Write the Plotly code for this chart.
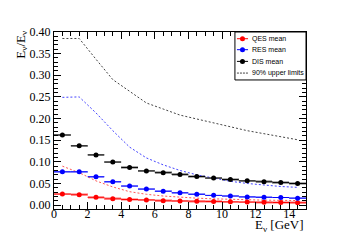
import plotly.graph_objects as go

energy = [0.5, 1.5, 2.5, 3.5, 4.5, 5.5, 6.5, 7.5, 8.5, 9.5, 10.5, 11.5, 12.5, 13.5, 14.5]

qes_mean = [0.0255, 0.024, 0.018, 0.0146, 0.013, 0.012, 0.010, 0.0095, 0.009, 0.0085, 0.0075, 0.007, 0.0065, 0.006, 0.0055]
res_mean = [0.077, 0.077, 0.0655, 0.054, 0.044, 0.037, 0.032, 0.0285, 0.025, 0.0225, 0.021, 0.019, 0.018, 0.0175, 0.016]
dis_mean = [0.162, 0.137, 0.116, 0.0995, 0.087, 0.079, 0.075, 0.071, 0.066, 0.0625, 0.059, 0.056, 0.054, 0.052, 0.050]

qes_err = [0.003] * 15
res_err = [0.002] * 15
dis_err = [0.003] * 15

qes_upper = [0.090, 0.075, 0.056, 0.042, 0.031, 0.025, 0.021, 0.018, 0.016, 0.0145, 0.013, 0.012, 0.0115, 0.011, 0.0105]
res_upper = [0.249, 0.250, 0.213, 0.172, 0.134, 0.109, 0.093, 0.080, 0.070, 0.062, 0.055, 0.050, 0.046, 0.043, 0.041]
dis_upper = [0.385, 0.385, 0.337, 0.290, 0.263, 0.236, 0.222, 0.208, 0.199, 0.190, 0.181, 0.172, 0.165, 0.158, 0.151]

legend_labels = ["QES mean", "RES mean", "DIS mean", "90% upper limits"]

series = [
    ("QES mean", qes_mean, qes_err, qes_upper, "#ff0000", "rgba(255,0,0,0.3)", "#ff5555"),
    ("RES mean", res_mean, res_err, res_upper, "#0000ff", "rgba(0,0,255,0.3)", "#4444ff"),
    ("DIS mean", dis_mean, dis_err, dis_upper, "#000000", "rgba(0,0,0,0.3)", "#444444"),
]

fig = go.Figure()

# systematic boxes
for name, vals, errs, ul, col, light, dcol in series:
    fig.add_trace(go.Bar(
        x=energy, y=[2 * e for e in errs], base=[v - e for v, e in zip(vals, errs)],
        width=1.0, marker=dict(color=light, line=dict(width=0)),
        showlegend=False, hoverinfo="skip"))

# upper limit lines
for name, vals, errs, ul, col, light, dcol in series:
    fig.add_trace(go.Scatter(
        x=energy, y=ul, mode="lines",
        line=dict(color=dcol, width=1, dash="2px,2px"),
        showlegend=False, hoverinfo="skip"))

# means
for name, vals, errs, ul, col, light, dcol in series:
    fig.add_trace(go.Scatter(
        x=energy, y=vals, mode="markers", name=name,
        marker=dict(color=col, size=5, symbol="circle"),
        error_x=dict(type="constant", value=0.5, color=col, thickness=1, width=0),
        error_y=dict(type="data", array=errs, color=col, thickness=1, width=0),
        showlegend=False))

fig.update_layout(
    width=355, height=240,
    margin=dict(l=46, r=57, t=24, b=39),
    paper_bgcolor="white", plot_bgcolor="white",
    barmode="overlay", bargap=0,
    font=dict(family="Liberation Serif", color="black"),
    showlegend=False,
)

fig.update_xaxes(
    range=[0, 15], dtick=2, tick0=0,
    ticks="inside", ticklen=7, tickcolor="black", mirror="allticks",
    showline=True, linecolor="black", linewidth=1,
    showgrid=False, zeroline=False,
    tickfont=dict(family="Liberation Serif", size=12),
    ticklabelstandoff=-6,
    minor=dict(dtick=0.5, ticks="inside", ticklen=4, tickcolor="black"),
)
fig.update_yaxes(
    range=[-0.009, 0.40], dtick=0.05, tick0=0, tickformat=".2f",
    ticks="inside", ticklen=7, tickcolor="black", mirror="allticks",
    showline=True, linecolor="black", linewidth=1,
    showgrid=False, zeroline=False,
    tickfont=dict(family="Liberation Serif", size=12),
    minor=dict(dtick=0.01, ticks="inside", ticklen=4, tickcolor="black"),
)

# manual legend (ROOT-style compact box)
fig.add_shape(type="rect", xref="paper", yref="paper", x0=0.718, x1=1.0, y0=0.729, y1=1.0,
              line=dict(color="black", width=1), fillcolor="white", layer="above")
leg_y = [0.962, 0.900, 0.834, 0.768]
for i, label in enumerate(legend_labels):
    y = leg_y[i]
    if i < 3:
        col = series[i][4]
        fig.add_shape(type="line", xref="paper", yref="paper", x0=0.726, x1=0.770, y0=y, y1=y,
                      line=dict(color=col, width=1), layer="above")
        fig.add_shape(type="circle", xref="paper", yref="paper", xsizemode="pixel", ysizemode="pixel",
                      xanchor=0.748, yanchor=y, x0=-2.5, x1=2.5, y0=-2.5, y1=2.5,
                      fillcolor=col, line=dict(color=col, width=0), layer="above")
    else:
        fig.add_shape(type="line", xref="paper", yref="paper", x0=0.726, x1=0.770, y0=y, y1=y,
                      line=dict(color="#444444", width=1, dash="2px,1px"), layer="above")
    fig.add_annotation(text=label, xref="paper", yref="paper", x=0.776, y=y,
                       xanchor="left", yanchor="middle", showarrow=False,
                       font=dict(family="Liberation Sans", size=7, color="black"))

fig.add_annotation(
    text="E<sub>ν</sub> [GeV]", xref="paper", yref="paper", x=1.0, y=-0.035,
    xanchor="right", yanchor="top", showarrow=False,
    font=dict(family="Liberation Serif", size=13))
fig.add_annotation(
    text="E<sub>ν</sub>/E<sub>ν</sub>", xref="paper", yref="paper", x=-0.13, y=1.02,
    xanchor="center", yanchor="top", showarrow=False, textangle=-90,
    font=dict(family="Liberation Serif", size=13))

fig.write_html("out.html")
